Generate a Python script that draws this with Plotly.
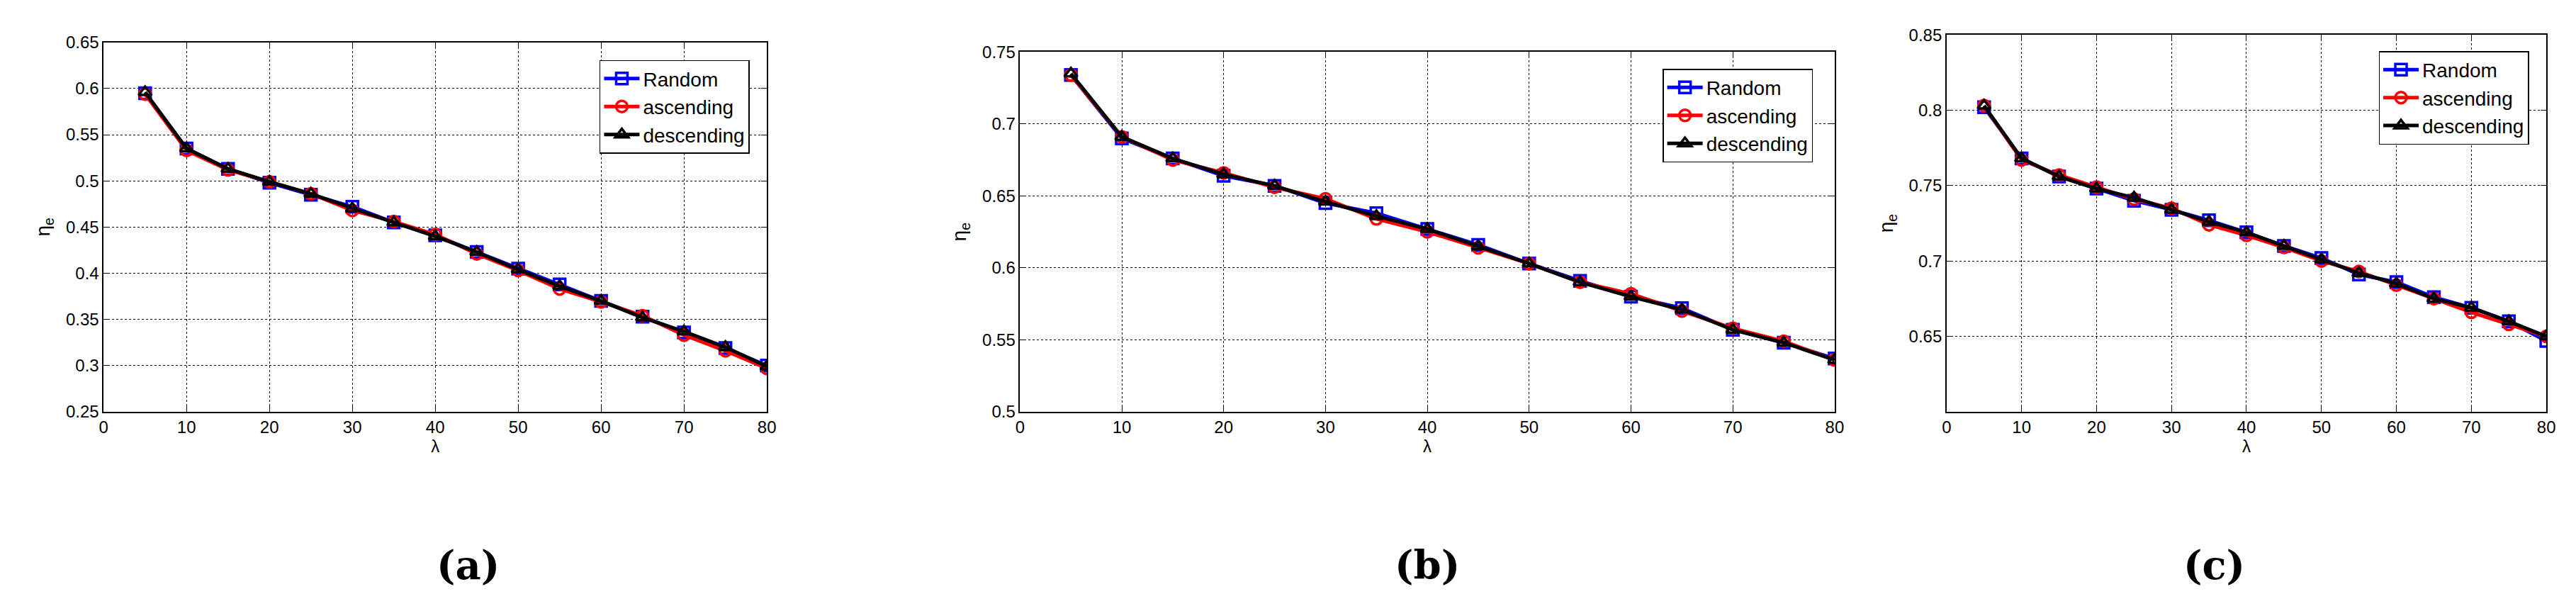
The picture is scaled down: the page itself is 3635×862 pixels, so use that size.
import plotly.graph_objects as go

lam = [5, 10, 15, 20, 25, 30, 35, 40, 45, 50, 55, 60, 65, 70, 75, 80]

a_random = [.595, .535, .513, .498, .485, .472, .455, .441, .423, .405, .388, .370, .353, .336, .319, .300]
a_asc = [.594, .533, .512, .499, .486, .468, .456, .442, .421, .403, .383, .369, .354, .333, .316, .297]
a_desc = [.596, .535, .513, .499, .486, .470, .455, .440, .423, .404, .386, .370, .352, .337, .320, .299]

b_random = [.734, .690, .676, .664, .657, .645, .638, .627, .616, .603, .591, .580, .572, .557, .548, .537]
b_asc = [.734, .691, .675, .666, .656, .648, .634, .625, .614, .603, .590, .582, .570, .558, .549, .536]
b_desc = [.735, .691, .676, .665, .657, .646, .636, .627, .615, .603, .590, .580, .571, .557, .548, .536]

c_random = [.802, .768, .756, .748, .740, .734, .727, .719, .710, .702, .691, .686, .676, .669, .660, .647]
c_asc = [.803, .767, .757, .749, .741, .735, .724, .717, .709, .700, .693, .684, .675, .666, .658, .650]
c_desc = [.803, .768, .756, .748, .742, .734, .726, .719, .710, .701, .692, .685, .675, .669, .660, .650]

panels = [
    # values, x domain, y domain, y range, y ticks, legend pos, label
    ((a_random, a_asc, a_desc), [0.0363, 0.2952], [0.3306, 0.9548], [0.25, 0.65],
     [0.25, 0.3, 0.35, 0.4, 0.45, 0.5, 0.55, 0.6, 0.65], (0.2885, 0.925), "(a)"),
    ((b_random, b_asc, b_desc), [0.394, 0.712], [0.3306, 0.9385], [0.5, 0.75],
     [0.5, 0.55, 0.6, 0.65, 0.7, 0.75], (0.7035, 0.91), "(b)"),
    ((c_random, c_asc, c_desc), [0.7557, 0.9898], [0.3306, 0.9675], [0.6, 0.85],
     [0.65, 0.7, 0.75, 0.8, 0.85], (0.983, 0.94), "(c)"),
]

names = ["Random", "ascending", "descending"]
colors = ["#0000ff", "#ff0000", "#000000"]
symbols = ["square-open", "circle-open", "triangle-up-open"]
font = "Liberation Sans Narrow, Arial Narrow, Liberation Sans, sans-serif"

fig = go.Figure()
layout = dict(width=3635, height=862, margin=dict(l=0, r=0, t=0, b=0),
              paper_bgcolor="white", plot_bgcolor="white",
              font=dict(family=font, size=24, color="black"), annotations=[])

for i, (vals, xd, yd, yr, yt, lp, lab) in enumerate(panels):
    n = "" if i == 0 else str(i + 1)
    leg = "legend" + n
    for v, nm, c, s in zip(vals, names, colors, symbols):
        fig.add_trace(go.Scatter(
            x=lam, y=v, name=nm, mode="lines+markers",
            line=dict(color=c, width=5),
            marker=dict(symbol=s, size=16, color=c, line=dict(width=3.5, color=c)),
            xaxis="x" + n, yaxis="y" + n, legend=leg))
    ax = dict(showline=True, mirror="ticks", linecolor="black", linewidth=1.5,
              ticks="inside", ticklen=8, tickcolor="black",
              showgrid=True, gridcolor="black", griddash="dot", gridwidth=1,
              zeroline=False, tickfont=dict(size=24))
    layout["xaxis" + n] = dict(ax, domain=xd, range=[0, 80], tickvals=list(range(0, 81, 10)),
                               anchor="y" + n, title=dict(text="λ", standoff=4, font=dict(size=24)))
    layout["yaxis" + n] = dict(ax, domain=yd, range=yr, tickvals=yt, anchor="x" + n,
                               title=dict(text="η<sub>e</sub>", standoff=14, font=dict(size=28)))
    layout[leg] = dict(x=lp[0], y=lp[1], xanchor="right", yanchor="top",
                       bgcolor="white", bordercolor="black", borderwidth=1.5,
                       font=dict(size=28), tracegroupgap=0, itemwidth=50)
    layout["annotations"].append(dict(
        text="<b>" + lab + "</b>", x=(xd[0] + xd[1]) / 2, y=0.03, xref="paper", yref="paper",
        yanchor="bottom", showarrow=False,
        font=dict(family="DejaVu Serif, Liberation Serif, serif", size=56)))

fig.update_layout(**layout)
fig.write_html("out.html")
